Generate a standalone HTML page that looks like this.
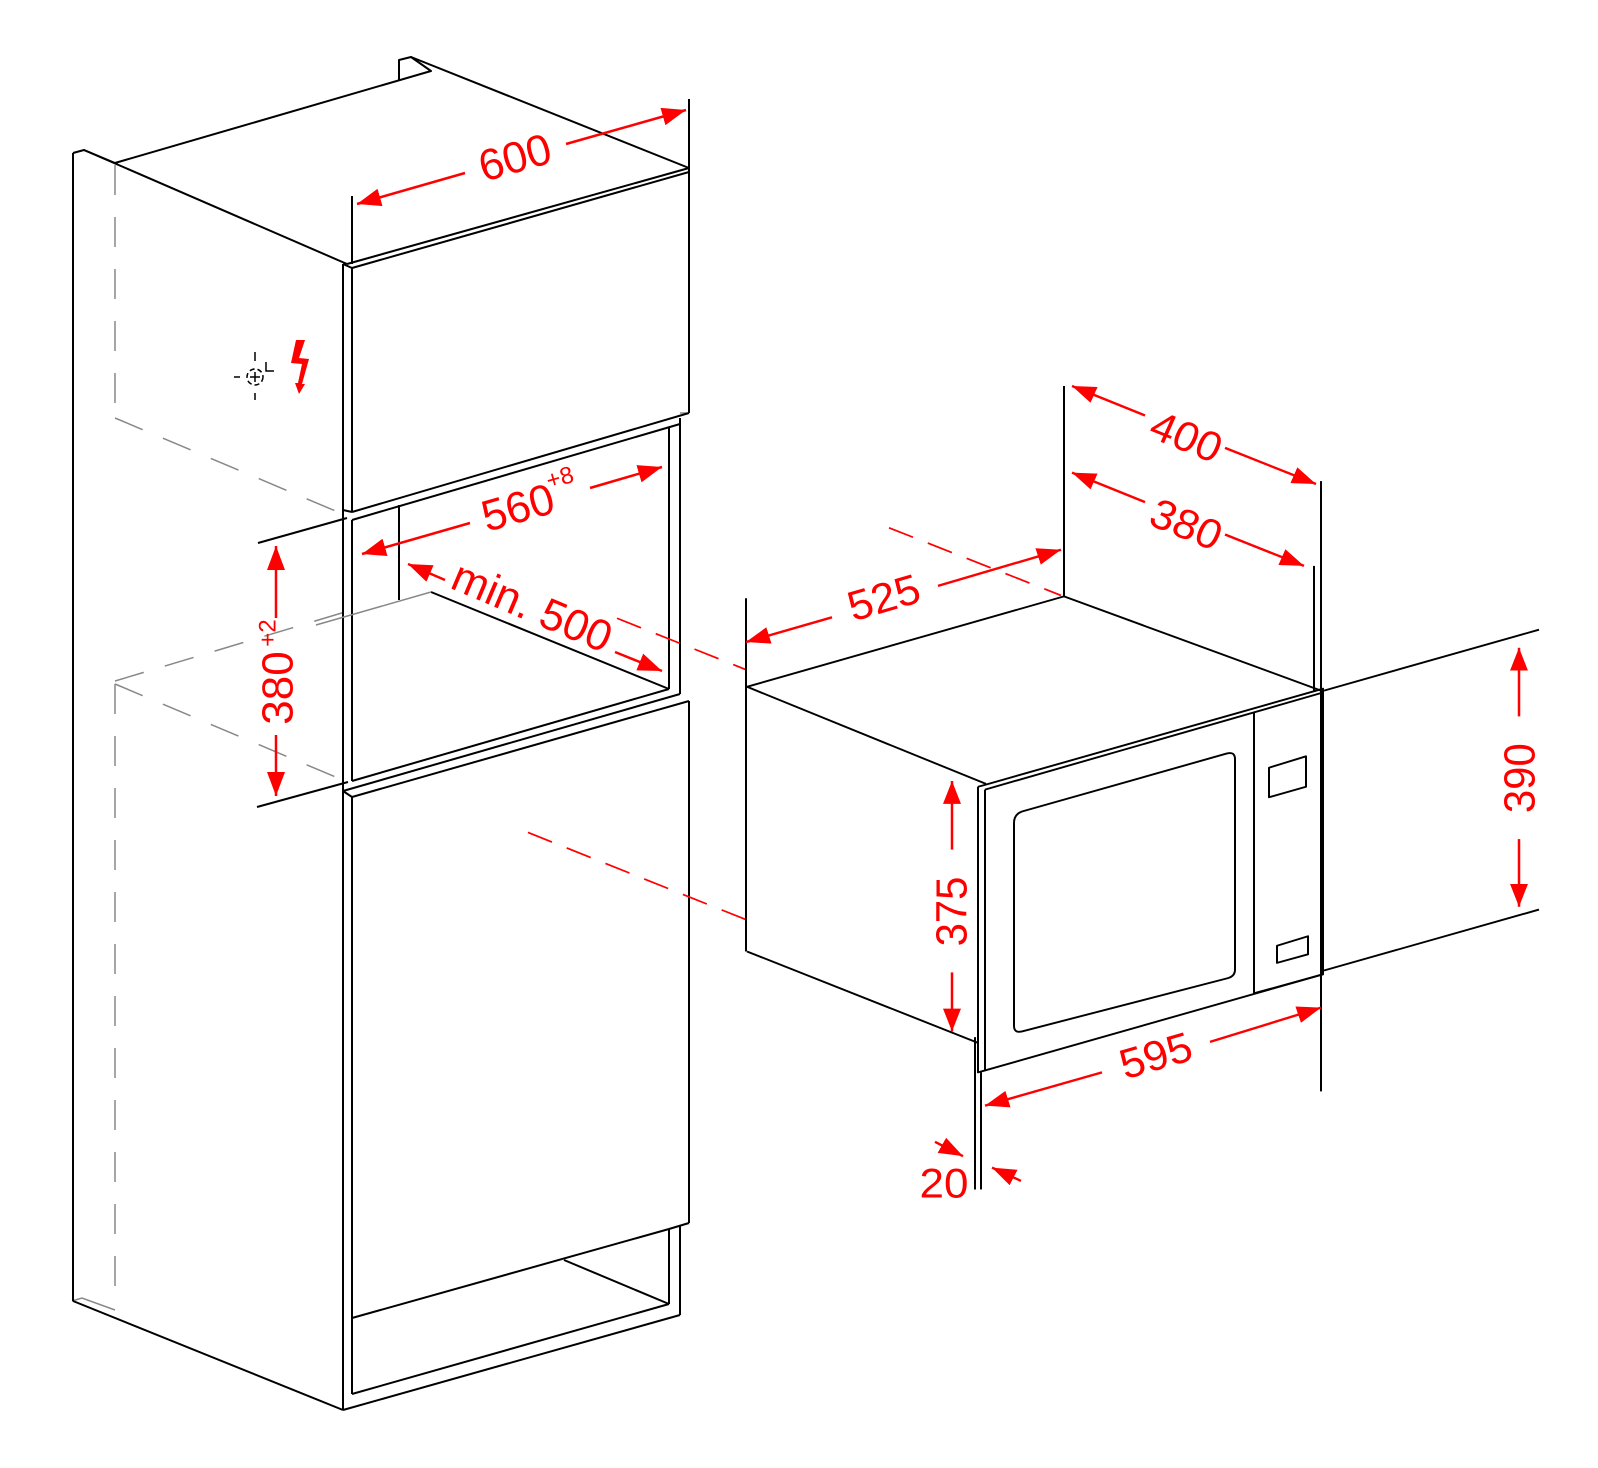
<!DOCTYPE html>
<html><head><meta charset="utf-8"><style>
html,body{margin:0;padding:0;background:#fff;}
svg{display:block;}
text{font-family:"Liberation Sans",Arial,sans-serif;fill:#f00;}
</style></head><body>
<svg width="1598" height="1468" viewBox="0 0 1598 1468" xmlns="http://www.w3.org/2000/svg">
<defs>
<marker id="ar" viewBox="0 0 24 18" refX="24" refY="9" markerWidth="24" markerHeight="18" markerUnits="userSpaceOnUse" orient="auto-start-reverse">
<path d="M0,0 L24,9 L0,18 Z" fill="#f00"/>
</marker>
</defs>

<g stroke="#888" stroke-width="1.5" fill="none" stroke-dasharray="30,22">
<line x1="115" y1="165" x2="115" y2="410"/>
<line x1="115" y1="684" x2="115" y2="1308"/>
<line x1="115" y1="418" x2="345" y2="515"/>
<line x1="115" y1="681" x2="345" y2="612"/>
<line x1="115" y1="684" x2="345" y2="781"/>
</g>
<g stroke="#888" stroke-width="1.5" fill="none">
<polyline points="72,1301 82,1298 115,1310"/>
<line x1="680" y1="413" x2="689" y2="413"/>
</g>

<g stroke="#000" stroke-width="2" fill="none" stroke-linejoin="round">
<line x1="73" y1="153" x2="73" y2="1301"/>
<polyline points="73,153 84,150 347,264"/>
<line x1="84" y1="150" x2="115" y2="163"/>
<polyline points="115,163 431,71 411,57 399,60 399,80"/>
<line x1="411" y1="57" x2="689" y2="168"/>
<line x1="689" y1="168" x2="347" y2="264"/>
<line x1="689" y1="172" x2="352" y2="268"/>
<line x1="689" y1="99" x2="689" y2="413"/>
<line x1="352" y1="196" x2="352" y2="264"/>
<line x1="343" y1="264" x2="343" y2="1410"/>
<line x1="352" y1="268" x2="352" y2="512"/>
<line x1="343" y1="264" x2="352" y2="268"/>
<line x1="352" y1="512" x2="689" y2="413"/>
<line x1="343" y1="510" x2="352" y2="512"/>
<line x1="352" y1="520" x2="352" y2="781"/>
<line x1="352" y1="520" x2="680" y2="424"/>
<line x1="669" y1="428" x2="669" y2="689"/>
<line x1="680" y1="418" x2="680" y2="694"/>
<line x1="399" y1="505" x2="399" y2="600"/>
<line x1="431" y1="592" x2="669" y2="689"/>
<line x1="316" y1="625" x2="431" y2="592" stroke="#888" stroke-width="1.5"/>
<line x1="352" y1="781" x2="669" y2="689"/>
<line x1="343" y1="791" x2="680" y2="694"/>
<line x1="352" y1="797" x2="689" y2="701"/>
<line x1="343" y1="791" x2="352" y2="797"/>
<line x1="352" y1="797" x2="352" y2="1394"/>
<line x1="689" y1="701" x2="689" y2="1223"/>
<line x1="352" y1="1318" x2="669" y2="1229"/>
<line x1="669" y1="1229" x2="689" y2="1223"/>
<line x1="680" y1="1226" x2="680" y2="1315"/>
<line x1="669" y1="1229" x2="669" y2="1304"/>
<line x1="352" y1="1394" x2="669" y2="1304"/>
<line x1="564" y1="1260" x2="669" y2="1304"/>
<line x1="343" y1="1410" x2="680" y2="1315"/>
<line x1="73" y1="1301" x2="343" y2="1410"/>
<line x1="258" y1="543" x2="347" y2="518"/>
<line x1="257" y1="807" x2="348" y2="782"/>
</g>

<g stroke="#000" stroke-width="1.5" fill="none">
<circle cx="255" cy="377" r="8" stroke-dasharray="5,3"/>
<line x1="255" y1="352" x2="255" y2="361"/>
<line x1="255" y1="393" x2="255" y2="400"/>
<line x1="234" y1="377" x2="240" y2="377"/>
<polyline points="266,362 266,371 274,371"/>
<path d="M250,377 h10 M255,372 v10"/>
</g>
<polygon points="296,340 305,340 299,358 309,359 302,384 305,384 299,394 295,383 298,383 302,364 291,363" fill="#f00"/>

<g stroke="#f00" stroke-width="2.5" fill="none">
<line x1="357" y1="204" x2="465" y2="173" marker-start="url(#ar)"/>
<line x1="566" y1="144" x2="686" y2="110" marker-end="url(#ar)"/>
<line x1="362" y1="554" x2="470" y2="523" marker-start="url(#ar)"/>
<line x1="590" y1="488" x2="662" y2="467" marker-end="url(#ar)"/>
<line x1="408" y1="564" x2="445" y2="580" marker-start="url(#ar)"/>
<line x1="615" y1="652" x2="662" y2="671" marker-end="url(#ar)"/>
<line x1="276" y1="546" x2="276" y2="618" marker-start="url(#ar)"/>
<line x1="276" y1="735" x2="276" y2="796" marker-end="url(#ar)"/>
</g>
<g font-size="44" text-anchor="middle" dominant-baseline="central">
<text transform="translate(515,158) rotate(-16)">600</text>
<text transform="translate(518,508) rotate(-16)">560</text>
<text transform="translate(560,478) rotate(-16)" font-size="24">+8</text>
<text transform="translate(532,607) rotate(23)">min. 500</text>
<text transform="translate(278,688) rotate(-90)">380</text>
<text transform="translate(268,633) rotate(-90)" font-size="24">+2</text>
</g>

<g transform="matrix(1 0 0 0.952 0 18.5)">
<g stroke="#f00" stroke-width="1.8" fill="none" stroke-dasharray="26,16">
<line x1="889" y1="535" x2="1061" y2="606"/>
<line x1="617" y1="630" x2="746" y2="684"/>
<line x1="528" y1="855" x2="747" y2="947"/>
</g>
<g stroke="#000" stroke-width="2" fill="none" stroke-linejoin="round">
<line x1="1064" y1="386" x2="1064" y2="607"/>
<line x1="1321" y1="486" x2="1321" y2="1127"/>
<line x1="1314" y1="575" x2="1314" y2="707"/>
<line x1="746" y1="609" x2="746" y2="980"/>
<line x1="1064" y1="607" x2="747" y2="702"/>
<line x1="1064" y1="607" x2="1321" y2="706"/>
<line x1="747" y1="702" x2="986" y2="804"/>
<line x1="747" y1="980" x2="978" y2="1076"/>
<polyline points="978,807 985,805 1323,704 1323,1004 985,1105 978,1107 978,807"/>
<line x1="985" y1="810" x2="1323" y2="708"/>
<line x1="985" y1="810" x2="985" y2="1105"/>
<line x1="1254" y1="729" x2="1254" y2="1024"/>
<line x1="1254" y1="1024" x2="1323" y2="1004"/>
<path d="M1022,833 L1227,772 Q1235,770 1235,778 L1235,999 Q1235,1006 1228,1008 L1022,1064 Q1014,1066 1014,1058 L1014,845 Q1014,836 1022,833 Z"/>
<polygon points="1269,787 1306,775 1306,807 1269,818"/>
<polygon points="1277,974 1308,964 1308,983 1277,992"/>
<line x1="1324" y1="706" x2="1539" y2="642"/>
<line x1="1324" y1="1000" x2="1539" y2="936"/>
<line x1="975" y1="1070" x2="975" y2="1230"/>
<line x1="981" y1="1107" x2="981" y2="1230"/>
</g>
<g stroke="#f00" stroke-width="2.5" fill="none">
<line x1="1072" y1="386" x2="1145" y2="417" marker-start="url(#ar)"/>
<line x1="1225" y1="451" x2="1316" y2="489" marker-end="url(#ar)"/>
<line x1="1072" y1="477" x2="1145" y2="508" marker-start="url(#ar)"/>
<line x1="1225" y1="542" x2="1304" y2="575" marker-end="url(#ar)"/>
<line x1="746" y1="655" x2="832" y2="629" marker-start="url(#ar)"/>
<line x1="938" y1="596" x2="1061" y2="558" marker-end="url(#ar)"/>
<line x1="1519" y1="661" x2="1519" y2="733" marker-start="url(#ar)"/>
<line x1="1519" y1="862" x2="1519" y2="933" marker-end="url(#ar)"/>
<line x1="952" y1="801" x2="952" y2="873" marker-start="url(#ar)"/>
<line x1="952" y1="1002" x2="952" y2="1064" marker-end="url(#ar)"/>
<line x1="985" y1="1142" x2="1102" y2="1107" marker-start="url(#ar)"/>
<line x1="1210" y1="1075" x2="1321" y2="1039" marker-end="url(#ar)"/>
<line x1="935" y1="1180" x2="963" y2="1195" marker-end="url(#ar)"/>
<line x1="1021" y1="1221" x2="992" y2="1207" marker-end="url(#ar)"/>
</g>
<g font-size="44" text-anchor="middle" dominant-baseline="central">
<text transform="translate(1186,440) rotate(23)">400</text>
<text transform="translate(1186,532) rotate(23)">380</text>
<text transform="translate(884,609) rotate(-17)">525</text>
<text transform="translate(1520,798) rotate(-90)">390</text>
<text transform="translate(952,938) rotate(-90)">375</text>
<text transform="translate(1156,1090) rotate(-17)">595</text>
<text x="944" y="1224">20</text>
</g>
</g>
</svg>
</body></html>
